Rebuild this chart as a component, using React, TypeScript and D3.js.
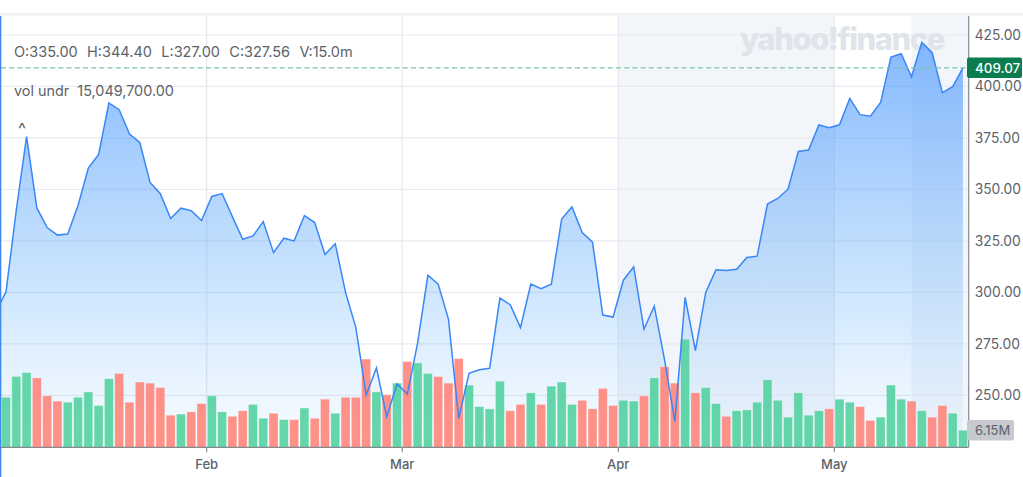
import React, { useEffect, useRef } from 'react'
import * as d3 from 'd3'

// first entry sits just left of the visible window and gets clipped
const closes = [
  290.5, 300.2, 340, 375.6, 341, 331.5, 327.8, 328.3, 342.2, 360.4, 367, 392, 388.7, 376.9, 372.8, 353.4,
  347.9, 335.9, 340.9, 339.7, 334.9, 346.6, 348, 336.8, 325.8, 327.4, 334.4, 319.3, 326.3, 325, 337.3, 333.9,
  318.4, 323.6, 299.9, 282.9, 250.1, 263.3, 239.6, 255.5, 250.6, 275.3, 308.3, 304, 287, 238.8, 260.7, 262.4,
  263.1, 297.2, 294, 282.9, 304, 301.8, 304, 335.6, 341.5, 329, 324.4, 289, 288, 305.9, 312.4, 282.1,
  293.3, 267.2, 237.2, 297.6, 271.7, 300, 311, 310.6, 311.2, 316.9, 317.6, 342.9, 345.6, 350.1, 368.4, 369.1,
  381.3, 380, 381.4, 394.2, 386.3, 385.6, 392.2, 414.3, 415.9, 404.7, 421.4, 416.5, 397, 399.9, 409.07,
]

// volume in millions
const volumes = [
  17, 18.1, 25.6, 27, 25.1, 18.6, 16.7, 16.3, 18.1, 20, 15.1, 24.8, 26.7, 16.3, 23.6, 23.2,
  21.6, 11.6, 12, 12.8, 15.8, 18.6, 12.8, 11.2, 13.2, 15.5, 10.5, 12.3, 10, 10, 14.2, 10.5,
  17.4, 12.3, 18.1, 18.1, 31.9, 20, 19, 23.2, 31, 30.5, 26.7, 25.6, 23.2, 32.1, 22.5, 14.7,
  13.9, 23.9, 13.2, 15.5, 19.7, 15.5, 22.1, 23.6, 15.5, 17, 13.9, 21.3, 15.1, 17, 16.7, 18.6,
  25.1, 29.1, 23.2, 39.1, 19.7, 21.6, 15.8, 11.2, 13.2, 13.5, 16.3, 24.4, 17, 10.9, 19.7, 11.6,
  13.2, 13.9, 17.4, 16.3, 14.7, 9.7, 10.9, 22.5, 17.4, 16.7, 13.2, 10.9, 15.1, 12.3, 6.15,
]

// g = up day, r = down day
const volumeDirs = (
  'g' +
  'gggrrrgggggrrrrrrgrrggrrggrgrgrrg' +
  'rrrgrgrggrrrggggrrgrgggrrrrggrgrr' +
  'grggrgggggggggrggrrgggrgrrgg'
).split('')

const priceTicks = [250, 275, 300, 325, 350, 375, 400, 425]
const monthLabels = ['Feb', 'Mar', 'Apr', 'May']
const monthStarts = [21, 40, 61, 82] // index of first session in the month
const shadedRanges = [
  [60.5, 81.5],
  [89, 94.5],
]
const lastPrice = 409.07
const lastVolume = 6.15

const width = 1023
const height = 477
const font = 'Inter, "Noto Sans", sans-serif'
const textColor = '#5b636a'
const gridColor = '#e8eaef'

export default function App() {
  const svgRef = useRef<SVGSVGElement>(null)

  useEffect(() => {
    if (!svgRef.current) return
    const svg = d3.select(svgRef.current)
    svg.selectAll('*').remove()

    const plotTop = 16
    const plotBottom = 447.3
    const plotRight = 968.1

    const x = d3.scaleLinear().domain([-0.5, 94.5]).range([-9.43, plotRight])
    const y = d3.scaleLinear().domain([250, 425]).range([395.3, 35])
    const volY = d3.scaleLinear().domain([0, lastVolume]).range([plotBottom, 430.3])
    const barW = x(1) - x(0) - 1.4

    const defs = svg.append('defs')
    const grad = defs.append('linearGradient')
      .attr('id', 'areaFill')
      .attr('gradientUnits', 'userSpaceOnUse')
      .attr('x1', 0).attr('x2', 0)
      .attr('y1', y(421)).attr('y2', plotBottom)
    grad.append('stop').attr('offset', '0%').attr('stop-color', '#4d97ff').attr('stop-opacity', 0.68)
    grad.append('stop').attr('offset', '50%').attr('stop-color', '#5aa8fb').attr('stop-opacity', 0.38)
    grad.append('stop').attr('offset', '100%').attr('stop-color', '#6cbcff').attr('stop-opacity', 0.04)

    defs.append('clipPath').attr('id', 'plotClip')
      .append('rect')
      .attr('x', 1).attr('y', plotTop)
      .attr('width', plotRight - 1).attr('height', plotBottom - plotTop)

    // top rule + left edge
    svg.append('rect').attr('x', 0).attr('y', 13).attr('width', width).attr('height', 2.4).attr('fill', '#f1f1f4')

    // shaded sessions
    svg.append('g').selectAll('rect').data(shadedRanges).join('rect')
      .attr('x', d => x(d[0]))
      .attr('y', plotTop)
      .attr('width', d => x(d[1]) - x(d[0]))
      .attr('height', plotBottom - plotTop)
      .attr('fill', '#f2f5f9')

    // grid
    svg.append('g').selectAll('line').data(priceTicks).join('line')
      .attr('x1', 1).attr('x2', plotRight)
      .attr('y1', d => y(d)).attr('y2', d => y(d))
      .attr('stroke', gridColor).attr('stroke-width', 1.2)

    svg.append('g').selectAll('line').data(monthStarts).join('line')
      .attr('x1', d => x(d - 0.5)).attr('x2', d => x(d - 0.5))
      .attr('y1', plotTop).attr('y2', plotBottom)
      .attr('stroke', gridColor).attr('stroke-width', 1.4)

    // watermark
    svg.append('text')
      .attr('x', 740).attr('y', 50)
      .attr('font-family', font).attr('font-size', 31).attr('font-weight', 800)
      .attr('letter-spacing', -1.45)
      .attr('fill', '#e0e4ea')
      .text('yahoo!finance')

    const plot = svg.append('g').attr('clip-path', 'url(#plotClip)')

    const area = d3.area<number>()
      .x((_, i) => x(i))
      .y0(plotBottom)
      .y1(d => y(d))
    plot.append('path').datum(closes).attr('d', area).attr('fill', 'url(#areaFill)')

    // volume bars
    plot.append('g').selectAll('rect').data(volumes).join('rect')
      .attr('x', (_, i) => x(i) - barW / 2)
      .attr('y', d => volY(d))
      .attr('width', barW)
      .attr('height', d => plotBottom - volY(d))
      .attr('fill', (_, i) => (volumeDirs[i] === 'g' ? '#50d09e' : '#ff8278'))
      .attr('fill-opacity', 0.88)
      .attr('stroke', '#ffffff')
      .attr('stroke-opacity', 0.35)
      .attr('stroke-width', 0.7)

    const line = d3.line<number>().x((_, i) => x(i)).y(d => y(d))
    plot.append('path').datum(closes).attr('d', line)
      .attr('fill', 'none')
      .attr('stroke', '#3a86f7')
      .attr('stroke-width', 1.5)
      .attr('stroke-linejoin', 'miter')

    // last price guide
    svg.append('line')
      .attr('x1', 1).attr('x2', plotRight)
      .attr('y1', y(lastPrice)).attr('y2', y(lastPrice))
      .attr('stroke', '#7cc4a6').attr('stroke-width', 1.2)
      .attr('stroke-dasharray', '5 3.2')

    // axis lines
    svg.append('rect').attr('x', 0).attr('y', plotTop).attr('width', 1.3).attr('height', height - plotTop).attr('fill', '#3f87ea')
    svg.append('line')
      .attr('x1', 1).attr('x2', plotRight + 0.6)
      .attr('y1', plotBottom).attr('y2', plotBottom)
      .attr('stroke', '#85898e').attr('stroke-width', 1.2)
    svg.append('line')
      .attr('x1', plotRight + 0.6).attr('x2', plotRight + 0.6)
      .attr('y1', plotTop).attr('y2', plotBottom)
      .attr('stroke', '#85898e').attr('stroke-width', 1.2)

    // price axis
    const yAxis = svg.append('g')
      .attr('transform', `translate(${plotRight + 0.6},0)`)
      .call(d3.axisRight(y).tickValues(priceTicks).tickFormat(d3.format('.2f')).tickSize(0).tickPadding(6))
    yAxis.select('.domain').remove()
    yAxis.selectAll('text')
      .attr('font-family', font).attr('font-size', 13.8)
      .attr('fill', textColor)

    // month axis
    const monthTicks = svg.append('g').selectAll('g').data(monthStarts).join('g')
      .attr('transform', d => `translate(${x(d - 0.5)},${plotBottom})`)
    monthTicks.append('line').attr('y2', 5).attr('stroke', '#85898e').attr('stroke-width', 1.2)
    monthTicks.append('text')
      .attr('y', 21.5)
      .attr('text-anchor', 'middle')
      .attr('font-family', font).attr('font-size', 13).attr('font-weight', 500)
      .attr('fill', textColor)
      .text((_, i) => monthLabels[i])

    // last value tags
    svg.append('rect')
      .attr('x', 967).attr('y', y(lastPrice) - 10.2)
      .attr('width', 55).attr('height', 20.4)
      .attr('rx', 2).attr('fill', '#0a7d4f')
    svg.append('text')
      .attr('x', 975).attr('y', y(lastPrice) + 4.8)
      .attr('font-family', font).attr('font-size', 13.4).attr('font-weight', 500)
      .attr('fill', '#ffffff')
      .text(d3.format('.2f')(lastPrice))

    svg.append('rect')
      .attr('x', 967).attr('y', volY(lastVolume) - 10.2)
      .attr('width', 47).attr('height', 20.4)
      .attr('rx', 2).attr('fill', '#c6c9ce')
    svg.append('text')
      .attr('x', 975).attr('y', volY(lastVolume) + 4.6)
      .attr('font-family', font).attr('font-size', 13).attr('font-weight', 400)
      .attr('fill', textColor)
      .text(`${lastVolume}M`)

    // OHLC readout
    svg.append('text')
      .attr('x', 14).attr('y', 56.5)
      .attr('font-family', font).attr('font-size', 14.5)
      .attr('fill', textColor)
      .attr('word-spacing', 0.6)
      .attr('xml:space', 'preserve')
      .text('O:335.00  H:344.40  L:327.00  C:327.56  V:15.0m')
    svg.append('text')
      .attr('x', 14).attr('y', 95.5)
      .attr('font-family', font).attr('font-size', 14.4)
      .attr('fill', textColor)
      .attr('xml:space', 'preserve')
      .text('vol undr  15,049,700.00')
    svg.append('text')
      .attr('x', 22).attr('y', 135)
      .attr('text-anchor', 'middle')
      .attr('font-family', font).attr('font-size', 17)
      .attr('fill', textColor)
      .text('^')
  }, [])

  return (
    <svg
      ref={svgRef}
      width={width}
      height={height}
      style={{ position: 'absolute', left: 0, top: 0, background: '#fff' }}
    />
  )
}
